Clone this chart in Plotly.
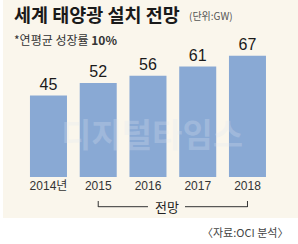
import plotly.graph_objects as go

categories = ["2014년", "2015", "2016", "2017", "2018"]
values = [45, 52, 56, 61, 67]
value_labels = ["45", "52", "56", "61", "67"]

W, H = 298, 244
def px(x):
    return x / W
def py(y):
    return 1 - y / H

NUM_FONT = "Liberation Sans, Arial, sans-serif"
KR_FONT = "Noto Sans CJK KR, sans-serif"
TICK_FONT = "Liberation Sans, Noto Sans CJK KR, sans-serif"

fig = go.Figure()
fig.add_trace(go.Bar(
    x=categories, y=values, text=value_labels,
    textposition="outside", cliponaxis=False,
    textfont=dict(family=NUM_FONT, size=16, color="#1a1a1a"),
    marker=dict(color="#89a9d4", line=dict(width=0)),
    width=0.744,
))

fig.update_layout(
    width=W, height=H,
    margin=dict(l=0, r=0, t=0, b=0),
    paper_bgcolor="white", plot_bgcolor="rgba(0,0,0,0)",
    showlegend=False,
    xaxis=dict(domain=[px(23.6), px(272.35)], range=[-0.5, 4.5],
               showgrid=False, zeroline=False, showline=False, ticks="",
               tickfont=dict(family=TICK_FONT, size=12, color="#333333"),
               fixedrange=True),
    yaxis=dict(domain=[py(177), py(50)], range=[0, 70.17], visible=False,
               fixedrange=True),
    shapes=[
        dict(type="rect", xref="paper", yref="paper", x0=px(3), x1=1, y0=py(218), y1=1,
             fillcolor="#faf6ec", line=dict(width=0), layer="below"),
        dict(type="line", xref="x", yref="paper", x0=1, x1=1, y0=py(201), y1=py(207),
             line=dict(color="#333333", width=1)),
        dict(type="line", xref="x", yref="paper", x0=4, x1=4, y0=py(201), y1=py(207),
             line=dict(color="#333333", width=1)),
        dict(type="line", xref="x", yref="paper", x0=1, x1=2, y0=py(206.7), y1=py(206.7),
             line=dict(color="#333333", width=1)),
        dict(type="line", xref="paper", yref="paper", x0=px(185), x1=px(247.5), y0=py(206.7), y1=py(206.7),
             line=dict(color="#333333", width=1)),
    ],
    annotations=[
        dict(text="<b>세계 태양광 설치 전망</b>", xref="paper", yref="paper", x=px(12), y=py(14),
             xanchor="left", yanchor="middle", showarrow=False,
             font=dict(family=KR_FONT, size=18.5, color="#1a1a1a")),
        dict(text="(단위:GW)", xref="paper", yref="paper", x=px(187), y=py(15),
             xanchor="left", yanchor="middle", showarrow=False,
             font=dict(family=KR_FONT, size=10, color="#555555")),
        dict(text="*연평균 성장률 <b>10%</b>", xref="paper", yref="paper", x=px(12), y=py(39),
             xanchor="left", yanchor="middle", showarrow=False,
             font=dict(family=KR_FONT, size=12, color="#333333")),
        dict(text="<b>디지털타임스</b>", xref="paper", yref="paper", x=px(152), y=py(133),
             xanchor="center", yanchor="middle", showarrow=False,
             font=dict(family=KR_FONT, size=33, color="rgba(225,230,240,0.25)")),
        dict(text="전망", xref="paper", yref="paper", x=px(167), y=py(206),
             xanchor="center", yanchor="middle", showarrow=False,
             font=dict(family=KR_FONT, size=13, color="#222222")),
        dict(text="〈자료:OCI 분석〉", xref="paper", yref="paper", x=px(290), y=py(232),
             xanchor="right", yanchor="middle", showarrow=False,
             font=dict(family=KR_FONT, size=11, color="#444444")),
    ],
)

fig.write_html("out.html")
